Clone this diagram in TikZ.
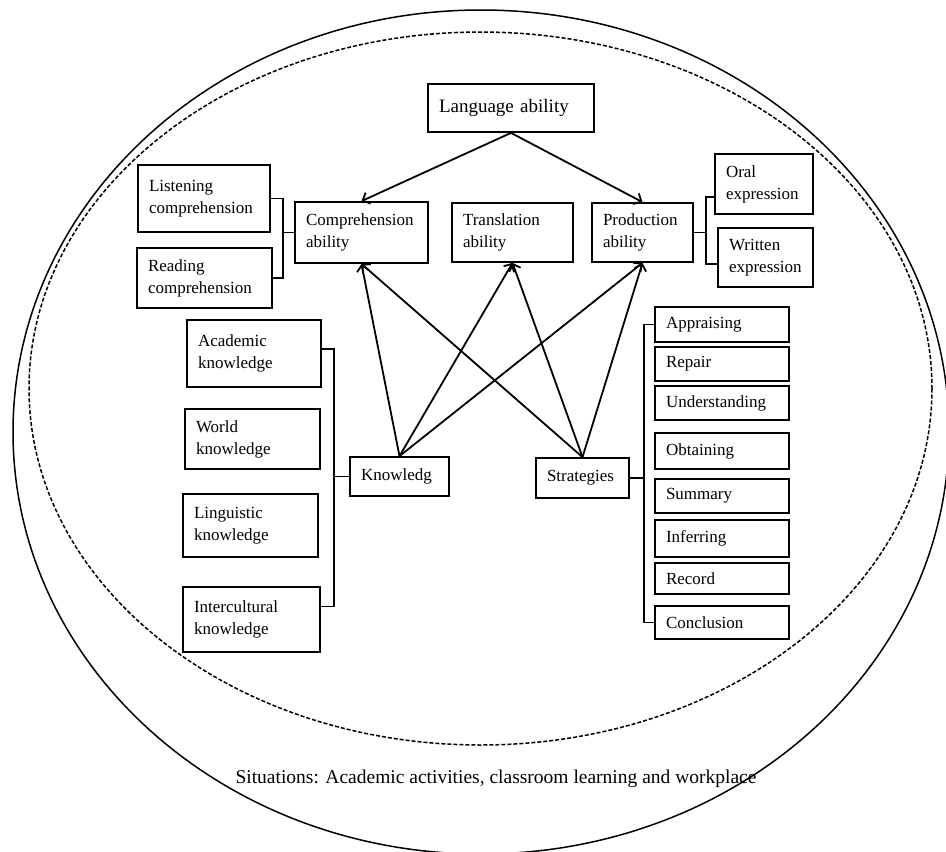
\documentclass[tikz,border=0pt]{standalone}
\usepackage{fontspec}
\setmainfont{Liberation Serif}
\usetikzlibrary{arrows.meta}
\tikzset{
        treenode/.style={align=left,inner xsep=11pt,inner ysep=0pt,font=\fontsize{17}{22}\selectfont},
        % Boxes
        node_box/.style={treenode, rectangle, draw=black, line width=1.8pt, fill=white},
        % Strategy boxes on the right
        node_strat/.style={node_box, text width=112pt, minimum height=#1},
        % Connectors
        link/.style={line width=1.7pt},
        arrow/.style={line width=1.8pt, -{Straight Barb[length=6pt,width=12pt]}}
}
\begin{document}
\begin{tikzpicture}[x=1pt, y=-1pt]
    \useasboundingbox (0,0) rectangle (946,852);
    % Situation circles
    \draw[line width=1.5pt] (481,432) ellipse [x radius=468, y radius=422];
    \draw[line width=1.5pt, dash pattern=on 4pt off 2pt] (480.5,388.5) ellipse [x radius=451.5, y radius=356.5];

    % Abilities
    \node[node_box, text width=144pt, minimum height=48pt, font=\fontsize{19}{23}\selectfont] (lang) at (511,108) {Language ability\\[-3pt]};
    \node[node_box, text width=111pt, minimum height=61pt] (comp) at (361.5,232.5) {Comprehension\\ability};
    \node[node_box, text width=99pt, minimum height=59pt] (trans) at (512.5,232.5) {Translation\\ability};
    \node[node_box, text width=79pt, minimum height=59pt] (prod) at (642.5,232.5) {Production\\ability};
    \node[node_box, text width=110pt, minimum height=67pt] (listen) at (204,198.5) {Listening\\comprehension};
    \node[node_box, text width=113pt, minimum height=60pt] (read) at (204.5,278) {Reading\\comprehension};
    \node[node_box, text width=76pt, minimum height=60pt] (oral) at (764,184) {Oral\\expression};
    \node[node_box, text width=73pt, minimum height=59pt] (written) at (765.5,257.5) {Written\\expression};

    % Knowledge
    \node[node_box, text width=112pt, minimum height=67pt] (acad) at (254,353.5) {Academic\\knowledge};
    \node[node_box, text width=113pt, minimum height=60pt] (world) at (252.5,439) {World\\knowledge};
    \node[node_box, text width=113pt, minimum height=63pt] (ling) at (250.5,525.5) {Linguistic\\knowledge};
    \node[node_box, text width=115pt, minimum height=65pt] (inter) at (251.5,619.5) {Intercultural\\knowledge};
    \node[node_box, text width=77pt, minimum height=39pt] (knowl) at (399.5,476.5) {Knowledg};

    % Strategies
    \node[node_box, text width=71pt, minimum height=40pt] (strat) at (582.5,478) {Strategies};
    \node[node_strat=35pt] (appr) at (722,324.5) {Appraising};
    \node[node_strat=34pt] (repair) at (722,364) {Repair};
    \node[node_strat=34pt] (under) at (722,403) {Understanding};
    \node[node_strat=36pt] (obtain) at (722,451) {Obtaining};
    \node[node_strat=34pt] (summ) at (722,496) {Summary};
    \node[node_strat=37pt] (infer) at (722,538.5) {Inferring};
    \node[node_strat=31pt] (record) at (722,578.5) {Record};
    \node[node_strat=33pt] (concl) at (722,622.5) {Conclusion};

    \node[font=\fontsize{19.5}{23}\selectfont] (situ) at (496,779) {Situations: Academic activities, classroom learning and workplace};

    % Brackets
    \draw[link] (listen.east) -- ++(12,0) coordinate (lbr) |- (read.east);
    \draw[link] (comp.west) -- (comp.west -| lbr);
    \draw[link] ([yshift=-13pt]oral.west) -- ++(-8,0) coordinate (rbr) |- ([yshift=-6.5pt]written.west);
    \draw[link] (prod.east) -- (prod.east -| rbr);
    \draw[link] ([yshift=4.5pt]acad.east) -- ++(12,0) coordinate (kbr) |- ([yshift=13pt]inter.east);
    \draw[link] (knowl.west) -- (knowl.west -| kbr);
    \draw[link] (appr.west) -- ++(-10,0) coordinate (sbr) |- (concl.west);
    \draw[link] (strat.east) -- (strat.east -| sbr);

    % Arrows
    \draw[arrow] (lang.south) -- (comp.north);
    \draw[arrow] (lang.south) -- (prod.north);
    \foreach \src in {knowl, strat}
        \foreach \dst in {comp, trans, prod}
            \draw[arrow] (\src.north) -- (\dst.south);
\end{tikzpicture}
\end{document}
